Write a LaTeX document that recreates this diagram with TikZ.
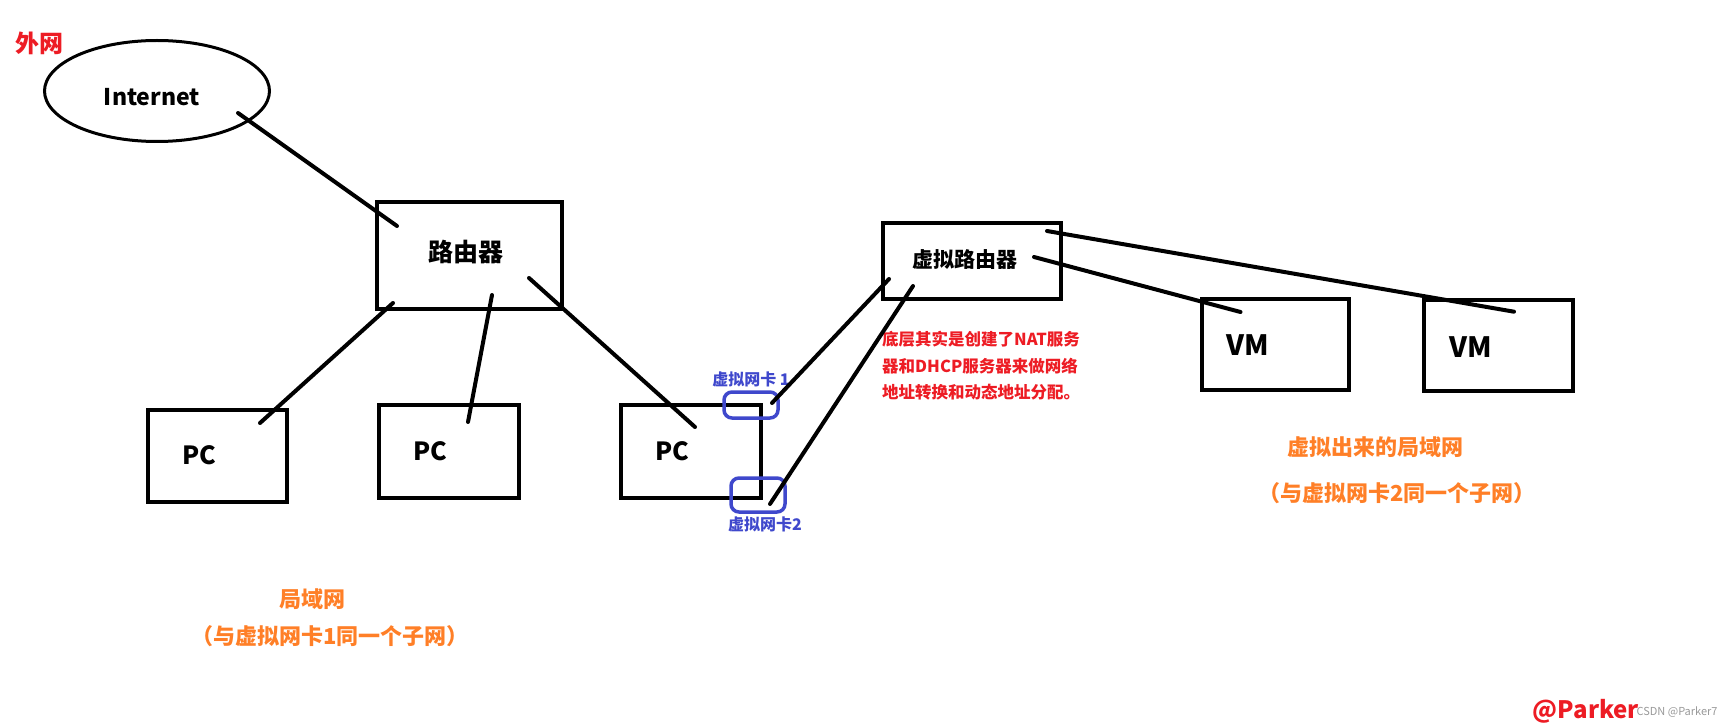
\documentclass[tikz,border=0pt]{standalone}
\usepackage{fontspec}
\setmainfont{Noto Sans CJK SC}
\usetikzlibrary{calc,shapes.geometric}
\definecolor{paintred}{RGB}{237,28,36}
\definecolor{paintorange}{RGB}{255,127,39}
\definecolor{paintblue}{RGB}{63,72,204}
\newcommand{\pxfont}[2]{\fontsize{#1}{#2}\selectfont\bfseries}

\begin{document}
\begin{tikzpicture}[x=1pt, y=-1pt,
  box/.style={draw, rectangle, line width=4pt, inner sep=0pt},
  nic/.style={draw=paintblue, rectangle, rounded corners=8pt, line width=3.5pt, inner sep=0pt},
  link/.style={line width=4pt, black, line cap=round},
  boxtext/.style={font=\pxfont{25}{30}},
  nictext/.style={font=\pxfont{16}{20}, text=paintblue},
  lantext/.style={font=\pxfont{22}{26}, text=paintorange}]
\useasboundingbox (0,0) rectangle (1723,727);

\node [font=\pxfont{24}{28}, text=paintred] (outer) at (40,43) {外网};
\node [draw, ellipse, line width=3pt, minimum width=225pt, minimum height=101pt, inner sep=0pt,
  label={[font=\pxfont{23}{28}, xshift=-5pt, yshift=-6pt]center:Internet}] (inet) at (157,91) {};

\node [box, minimum width=185pt, minimum height=107pt, label={[boxtext, xshift=-3.5pt, yshift=3.5pt]center:路由器}] (router) at (469.5,255.5) {};
\node [box, minimum width=139pt, minimum height=92pt, label={[boxtext, xshift=-18.5pt, yshift=1pt]center:PC}] (pc1) at (217.5,456) {};
\node [box, minimum width=140pt, minimum height=93pt, label={[boxtext, xshift=-19pt, yshift=0.5pt]center:PC}] (pc2) at (449,451.5) {};
\node [box, minimum width=140pt, minimum height=93pt, label={[boxtext, xshift=-19pt]center:PC}] (pc3) at (691,451.5) {};

\node [nic, minimum width=54pt, minimum height=26pt, label={[nictext]above:虚拟网卡 1}] (nic1) at (751,405) {};
\node [nic, minimum width=54pt, minimum height=34pt, label={[nictext, xshift=7pt]below:虚拟网卡2}] (nic2) at (758,495) {};

\node [box, minimum width=178pt, minimum height=76pt, label={[font=\pxfont{21}{25}, xshift=-7pt, yshift=1pt]center:虚拟路由器}] (vrouter) at (972,261) {};
\node [box, minimum width=147pt, minimum height=91pt, label={[boxtext, font=\pxfont{28}{32}, xshift=-28pt, yshift=-0.7pt]center:VM}] (vm1) at (1275.5,344) {};
\node [box, minimum width=149pt, minimum height=91.5pt, label={[boxtext, font=\pxfont{28}{32}, xshift=-28pt, yshift=-1pt]center:VM}] (vm2) at (1498.5,345.7) {};

\node [anchor=north west, inner sep=0pt, align=left, text=paintred, font=\pxfont{16.5}{26.5}] (note) at (882,331)
  {底层其实是创建了NAT服务\\器和DHCP服务器来做网络\\地址转换和动态地址分配。};

\node [lantext] (lan) at (312,599) {局域网};
\node [lantext] (lansub) at (330,636) {（与虚拟网卡1同一个子网）};
\node [lantext] (vlan) at (1375,447) {虚拟出来的局域网};
\node [lantext] (vlansub) at (1397,493) {（与虚拟网卡2同一个子网）};

\draw [link] ($(inet)+(81,22)$) -- ($(router)+(-72.5,-29.5)$);
\draw [link] ($(router)+(-76.5,47.5)$) -- ($(pc1)+(42.5,-33)$);
\draw [link] ($(router)+(22.5,39.5)$) -- ($(pc2)+(19,-29.5)$);
\draw [link] ($(router)+(59.5,22.5)$) -- ($(pc3)+(4,-24.5)$);
\draw [link] ($(nic1)+(21,-2)$) -- ($(vrouter)+(-83,18)$);
\draw [link] ($(nic2)+(12,9)$) -- ($(vrouter)+(-59,25)$);
\draw [link] ($(vrouter)+(62,-4)$) -- ($(vm1)+(-35,-32)$);
\draw [link] ($(vrouter)+(75,-30)$) -- ($(vm2)+(15.5,-34)$);

\node [font=\pxfont{24}{28}, text=paintred] (sign) at (1586,711) {@Parker};
\node [anchor=east, font=\fontsize{11}{13}\selectfont, text=gray!80] (mark) at (1721,712) {CSDN @Parker7};
\end{tikzpicture}
\end{document}
